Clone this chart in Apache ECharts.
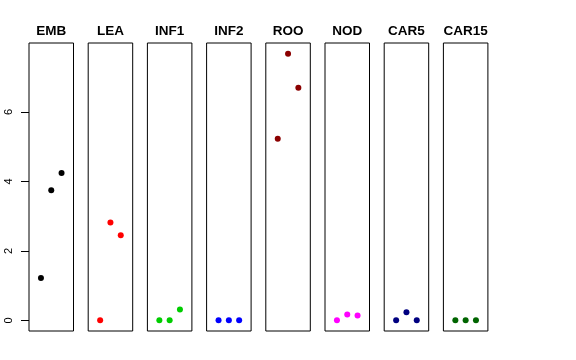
<!DOCTYPE html>
<html><head><meta charset="utf-8">
<script src="https://cdn.jsdelivr.net/npm/echarts@6/dist/echarts.min.js"></script>
<style>html,body{margin:0;padding:0;background:#fff}#c{width:576px;height:360px}</style>
</head><body><div id="c"></div>
<script>
var panels = ["EMB","LEA","INF1","INF2","ROO","NOD","CAR5","CAR15"];
var colors = ["#000000","#FF0000","#00CD00","#0000FF","#8B0000","#FF00FF","#000080","#006400"];
var xPositions = [1,2,3];
var values = [
  [1.22, 3.75, 4.24],
  [0.00, 2.82, 2.45],
  [0.00, 0.00, 0.31],
  [0.00, 0.00, 0.00],
  [5.23, 7.68, 6.70],
  [0.00, 0.17, 0.14],
  [0.00, 0.23, 0.00],
  [0.00, 0.00, 0.00]
];
var yTickMin = 0, yTickMax = 6, yTickStep = 2;

(function(){
var yMin = -0.307, yMax = 7.987;
var x0 = 29, step = 59.2, w = 44.5, gTop = 43, gHeight = 288;
var grids=[], xAxes=[], yAxes=[], series=[], graphics=[];
panels.forEach(function(name,i){
  var left = x0 + i*step;
  grids.push({left:left, width:w, top:gTop, height:gHeight, show:true, borderColor:'#000', borderWidth:1});
  xAxes.push({type:'value', gridIndex:i, min:-0.16, max:4.16, show:false});
  yAxes.push({type:'value', gridIndex:i, min:yMin, max:yMax, show:false});
  series.push({type:'scatter', xAxisIndex:i, yAxisIndex:i, symbol:'circle', symbolSize:6,
    itemStyle:{color:colors[i], opacity:1}, silent:true,
    data: xPositions.map(function(x,j){return [x, values[i][j]];})});
  graphics.push({type:'text', x:left + w/2, y:31, silent:true,
    style:{text:name, textAlign:'center', textVerticalAlign:'middle', fill:'#000',
      font:'bold 13.5px "Liberation Sans", Arial, sans-serif'}});
});
var pxPerUnit = gHeight/(yMax-yMin);
var axTop = gTop + (yMax - yTickMax)*pxPerUnit;
var axHeight = (yTickMax - yTickMin)*pxPerUnit;
grids.push({left:x0, width:w, top:axTop, height:axHeight, show:false});
xAxes.push({type:'value', gridIndex:8, min:0, max:1, show:false});
yAxes.push({type:'value', gridIndex:8, min:yTickMin, max:yTickMax, interval:yTickStep,
  axisLine:{show:false}, splitLine:{show:false},
  axisTick:{show:true, inside:false, length:8, lineStyle:{color:'#000'}},
  axisLabel:{show:true, rotate:90, margin:15, fontSize:11, color:'#000', fontFamily:'Liberation Sans, Arial, sans-serif'}
});
var chart = echarts.init(document.getElementById('c'), null, {renderer:'canvas'});
chart.setOption({animation:false, backgroundColor:'#fff', graphic:graphics, grid:grids, xAxis:xAxes, yAxis:yAxes, series:series});
})();
</script></body></html>
